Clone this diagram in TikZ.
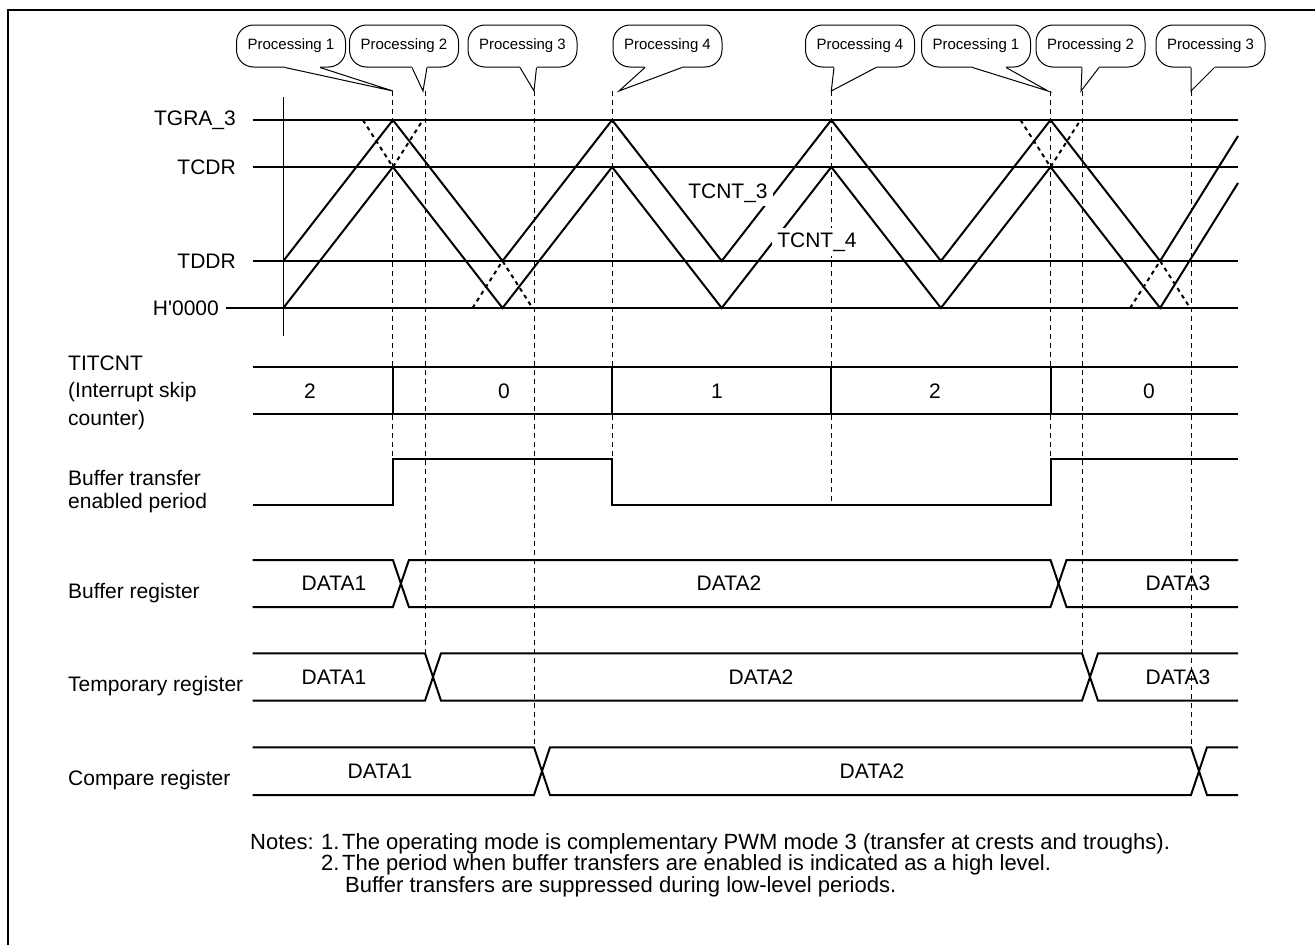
\documentclass[tikz,border=0pt]{standalone}
\usepackage{fontspec}
\setmainfont{Liberation Sans}
\newfontfamily\hfont{Liberation Sans}
\begin{document}
\begin{tikzpicture}[x=1pt,y=-1pt,
  wave/.style={line width=2pt},
  guide/.style={line width=1pt, dash pattern=on 5pt off 4pt},
  dotx/.style={line width=2pt, dash pattern=on 4pt off 4pt},
  lbl/.style={font=\fontsize{21}{22}\selectfont, inner sep=0pt},
  note/.style={font=\fontsize{22}{22}\selectfont, inner sep=0pt, anchor=base west},
  bubble/.style={draw, line width=1pt, rounded corners=17pt, fill=white,
    minimum width=109pt, minimum height=42pt, inner sep=0pt,
    font=\fontsize{15}{16}\selectfont},
  bubline/.style={line width=1pt, line join=miter}]
\useasboundingbox (0,0) rectangle (1315,945);
% frame
\draw[line width=2pt] (8,945) -- (8,10) -- (1315,10);

% ---------- callouts ----------
\newcommand\bub[6]{%
  \node[bubble] (#1) at (#2,46) {#3};
  \coordinate (#1tip) at (#6,91);
  \fill[white] ([xshift=#4pt,yshift=1.5pt]#1.south) rectangle ([xshift=#5pt,yshift=-1.5pt]#1.south);
  \draw[bubline] ([xshift=#4pt]#1.south) -- (#1tip) -- ([xshift=#5pt]#1.south);
}
\bub{pa}{291}{Processing 1}{-6}{29}{392.9}
\bub{pb}{404}{Processing 2}{8}{23}{423}
\bub{pc}{522.5}{Processing 3}{-2.5}{14}{534}
\bub{pd}{667.5}{Processing 4}{-22.5}{14.5}{619}
\bub{pe}{860}{Processing 4}{-26}{16}{831.3}
\bub{pf}{976}{Processing 1}{-3.5}{30}{1048}
\bub{pg}{1090.5}{Processing 2}{-8.5}{8.5}{1081}
\bub{ph}{1210.5}{Processing 3}{-19.5}{4}{1191}

% ---------- dashed guides ----------
\draw[guide] (patip) -- (392.9,459);
\draw[guide] (425,91) -- (425,653.3);
\draw[guide] (pctip) -- (534,747.3);
\draw[guide] (612.1,91) -- (612.1,459);
\draw[guide] (petip) -- (831.3,505);
\draw[guide] (1050.5,91) -- (1050.5,459);
\draw[guide] (1082,91) -- (1082,653.3);
\draw[guide] (phtip) -- (1191,747.3);

% ---------- left labels ----------
\node[lbl, anchor=east] (tgra) at (236,120) {TGRA\_3};
\node[lbl, anchor=east] (tcdr) at (236,167) {TCDR};
\node[lbl, anchor=east] (tddr) at (236,261) {TDDR};
\node[lbl, anchor=east] (hzero) at (219,308) {\hfont H'0000};

% level lines
\draw[wave] (252.7,120) -- (1238,120);
\draw[wave] (252.7,167) -- (1238,167);
\draw[wave] (252.7,261) -- (1238,261);
\draw[wave] (226,308) -- (1238,308);
\draw[line width=1.2pt] (283.3,97) -- (283.3,336);

% triangle waves
\draw[wave] (283.3,261) -- (392.9,120) -- (502.5,261) -- (612.1,120) -- (721.7,261)
  -- (831.3,120) -- (940.9,261) -- (1050.5,120) -- (1160.1,261) -- (1238,136);
\draw[wave] (283.3,308) -- (392.9,167) -- (502.5,308) -- (612.1,167) -- (721.7,308)
  -- (831.3,167) -- (940.9,308) -- (1050.5,167) -- (1160.1,308) -- (1238,183);
% dotted crossings
\draw[dotx] (362.9,120) -- (392.9,167) -- (422.9,120);
\draw[dotx] (472.5,308) -- (502.5,261) -- (532.5,308);
\draw[dotx] (1020.5,120) -- (1050.5,167) -- (1080.5,120);
\draw[dotx] (1130.1,308) -- (1160.1,261) -- (1190.1,308);

\node[lbl, fill=white, inner xsep=5pt, inner ysep=4pt] (tc3) at (728,193) {TCNT\_3};
\node[lbl, fill=white, inner xsep=5pt, inner ysep=5pt] (tc4) at (817,242) {TCNT\_4};

% ---------- TITCNT ----------
\node[lbl, anchor=west] (titcnt) at (68,363) {TITCNT};
\node[lbl, anchor=west] (skip) at (68,391.7) {(Interrupt skip};
\node[lbl, anchor=west] (cntr) at (68,420) {counter)};
\draw[wave] (252.7,366.7) -- (1238,366.7);
\draw[wave] (252.7,414) -- (1238,414);
\foreach \x in {392.9,612.1,831.3,1050.5}
  \draw[wave] (\x,366.7) -- (\x,414);
\node[lbl] (v1) at (310,391) {2};
\node[lbl] (v2) at (504,391) {0};
\node[lbl] (v3) at (717,391) {1};
\node[lbl] (v4) at (935,391) {2};
\node[lbl] (v5) at (1149,391) {0};

% ---------- buffer transfer enabled ----------
\node[lbl, anchor=west] (bte1) at (68,478) {Buffer transfer};
\node[lbl, anchor=west] (bte2) at (68,503) {enabled period};
\draw[wave] (252.7,505) -- (392.9,505) -- (392.9,459) -- (612.1,459) -- (612.1,505)
  -- (1050.5,505) -- (1050.5,459) -- (1238,459);

% ---------- registers ----------
\node[lbl, anchor=west] (bufreg) at (68,593) {Buffer register};
\draw[wave] (252.7,560) -- (392.9,560) -- (408.9,607) -- (1050.5,607) -- (1066.5,560) -- (1238,560);
\draw[wave] (252.7,607) -- (392.9,607) -- (408.9,560) -- (1050.5,560) -- (1066.5,607) -- (1238,607);
\node[lbl] (b1) at (334,583) {DATA1};
\node[lbl] (b2) at (729,583) {DATA2};
\node[lbl] (b3) at (1178,583) {DATA3};

\node[lbl, anchor=west] (tmpreg) at (68,686) {Temporary register};
\draw[wave] (252.7,653.3) -- (425,653.3) -- (441,700.7) -- (1082,700.7) -- (1098,653.3) -- (1238,653.3);
\draw[wave] (252.7,700.7) -- (425,700.7) -- (441,653.3) -- (1082,653.3) -- (1098,700.7) -- (1238,700.7);
\node[lbl] (t1) at (334,677) {DATA1};
\node[lbl] (t2) at (761,677) {DATA2};
\node[lbl] (t3) at (1178,677) {DATA3};

\node[lbl, anchor=west] (cmpreg) at (68,780) {Compare register};
\draw[wave] (252.7,747.3) -- (534,747.3) -- (550,795) -- (1191,795) -- (1207,747.3) -- (1238,747.3);
\draw[wave] (252.7,795) -- (534,795) -- (550,747.3) -- (1191,747.3) -- (1207,795) -- (1238,795);
\node[lbl] (c1) at (380,771) {DATA1};
\node[lbl] (c2) at (872,771) {DATA2};

% ---------- notes ----------
\node[note] (n0) at (250,849) {Notes:};
\node[note] (n1) at (321,849) {1.};
\node[note] (n1t) at (342,849) {The operating mode is complementary PWM mode 3 (transfer at crests and troughs).};
\node[note] (n2) at (321,870.5) {2.};
\node[note] (n2t) at (342,870.5) {The period when buffer transfers are enabled is indicated as a high level.};
\node[note] (n3t) at (345,892) {Buffer transfers are suppressed during low-level periods.};
\end{tikzpicture}
\end{document}
